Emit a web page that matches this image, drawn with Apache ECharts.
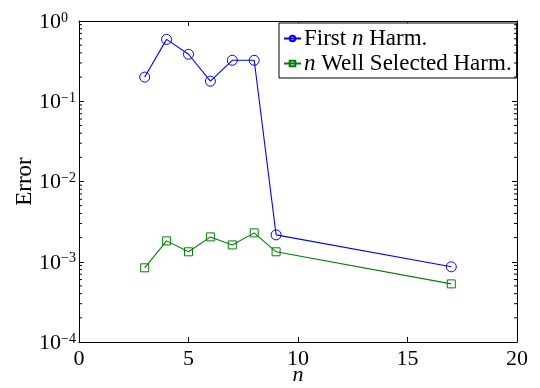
<!DOCTYPE html>
<html>
<head>
<meta charset="utf-8">
<script src="https://cdn.jsdelivr.net/npm/echarts@6/dist/echarts.min.js"></script>
<style>
  html, body { margin: 0; padding: 0; background: #fff; }
  #chart { width: 540px; height: 388px; }
</style>
</head>
<body>
<div id="chart"></div>
<script>
// values
const nValues = [3, 4, 5, 6, 7, 8, 9, 17];
const firstHarm = [0.20, 0.59, 0.385, 0.178, 0.324, 0.324, 0.00216, 0.000865];
const selectedHarm = [0.00084, 0.00182, 0.00133, 0.00204, 0.00162, 0.00229, 0.00133, 0.00053];

// minor ticks of the log axis (2..9 in each decade)
const minorTickValues = [];
for (let d = -4; d < 0; d++) {
  for (let k = 2; k <= 9; k++) minorTickValues.push([0, k * Math.pow(10, d)]);
}

const FONT = 'Liberation Serif';

const chart = echarts.init(document.getElementById('chart'), null, { renderer: 'canvas' });

// "10" with the exponent as a raised token
function supLabel(v) {
  const e = Math.round(Math.log10(v));
  return '{b|10}{s|' + (e < 0 ? '\u2212' + (-e) : e) + '}';
}

const xCommon = {
  type: 'value', min: 0, max: 20, interval: 5,
  axisLine: { show: true, onZero: false, lineStyle: { color: '#000', width: 1 } },
  axisTick: { show: true, inside: true, length: 5, lineStyle: { color: '#000' } },
  splitLine: { show: false }
};
const yCommon = {
  type: 'log', logBase: 10, min: 1e-4, max: 1,
  axisLine: { show: true, onZero: false, lineStyle: { color: '#000', width: 1 } },
  axisTick: { show: true, inside: true, length: 5, lineStyle: { color: '#000' } },
  splitLine: { show: false }
};

chart.setOption({
  animation: false,
  backgroundColor: '#fff',
  grid: { left: 79, right: 23, top: 21, bottom: 46, outerBoundsMode: 'none' },
  xAxis: [
    Object.assign({}, xCommon, {
      position: 'bottom',
      name: 'n', nameLocation: 'middle', nameGap: 22, nameMoveOverlap: false,
      nameTextStyle: { fontFamily: FONT, fontSize: 22, fontStyle: 'italic', color: '#000' },
      axisLabel: { fontFamily: FONT, fontSize: 22, color: '#000', margin: 6 }
    }),
    Object.assign({}, xCommon, { position: 'top', axisLabel: { show: false } })
  ],
  yAxis: [
    Object.assign({}, yCommon, {
      position: 'left',
      name: 'Error', nameLocation: 'middle', nameGap: 43, nameMoveOverlap: false,
      nameTextStyle: { fontFamily: FONT, fontSize: 23, color: '#000' },
      axisLabel: {
        margin: 40,
        align: 'left',
        padding: [2, 0, 0, 0],
        formatter: supLabel,
        rich: {
          b: { fontFamily: FONT, fontSize: 22, lineHeight: 22, color: '#000', verticalAlign: 'bottom' },
          s: { fontFamily: FONT, fontSize: 14, lineHeight: 14, color: '#000', verticalAlign: 'top', padding: [0, 0, 15, 0] }
        }
      }
    }),
    Object.assign({}, yCommon, { position: 'right', axisLabel: { show: false } })
  ],
  legend: {
    orient: 'vertical',
    left: 279, top: 23,
    backgroundColor: '#fff',
    borderColor: '#000', borderWidth: 1, borderRadius: 0,
    padding: [3, 5, 2, 4],
    itemGap: 0, itemWidth: 17, itemHeight: 7,
    textStyle: {
      fontFamily: FONT, fontSize: 23, lineHeight: 25, color: '#000', padding: [0, 0, 0, -2],
      rich: { i: { fontFamily: FONT, fontSize: 23, lineHeight: 25, fontStyle: 'italic', color: '#000' } }
    },
    formatter: function (name) {
      return name === 'first' ? 'First {i|n} Harm.' : '{i|n} Well Selected Harm.';
    },
    data: ['first', 'selected']
  },
  series: [
    {
      name: 'first', type: 'line',
      data: nValues.map((n, i) => [n, firstHarm[i]]),
      symbol: 'circle', symbolSize: 10,
      itemStyle: { color: 'rgba(255,255,255,0)', borderColor: '#0000ff', borderWidth: 1 },
      lineStyle: { color: '#0000ff', width: 1.1 }
    },
    {
      name: 'selected', type: 'line',
      data: nValues.map((n, i) => [n, selectedHarm[i]]),
      symbol: 'rect', symbolSize: 8,
      itemStyle: { color: 'rgba(255,255,255,0)', borderColor: '#008000', borderWidth: 1 },
      lineStyle: { color: '#008000', width: 1.1 }
    },
    {
      type: 'custom', silent: true, z: 5,
      data: minorTickValues,
      renderItem: function (params, api) {
        const v = api.value(1);
        const l = api.coord([0, v]);
        const r = api.coord([20, v]);
        const style = { stroke: '#000', lineWidth: 1 };
        return {
          type: 'group',
          children: [
            { type: 'line', shape: { x1: l[0], y1: l[1], x2: l[0] + 3, y2: l[1] }, style: style },
            { type: 'line', shape: { x1: r[0], y1: r[1], x2: r[0] - 3, y2: r[1] }, style: style }
          ]
        };
      }
    }
  ]
});
</script>
</body>
</html>
